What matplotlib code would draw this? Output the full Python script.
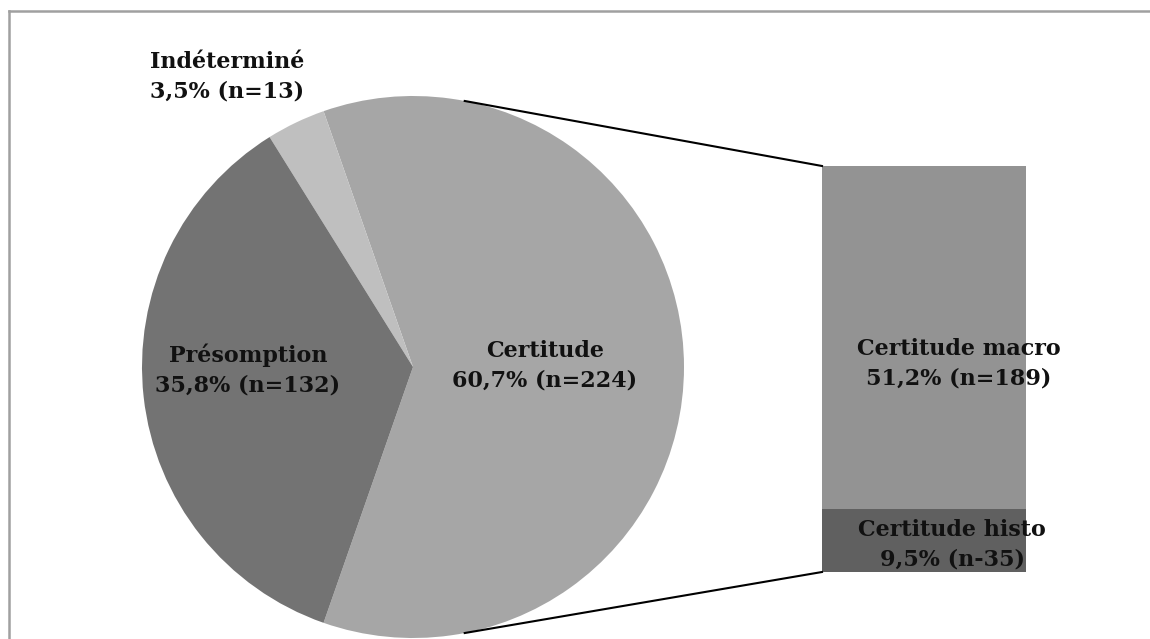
import numpy as np
import matplotlib
matplotlib.use("Agg")
import matplotlib.pyplot as plt
from matplotlib.lines import Line2D

# Data
pie_labels = ["Certitude\n60,7% (n=224)", "Indéterminé\n3,5% (n=13)", "Présomption\n35,8% (n=132)"]
pie_values = [224, 13, 132]
pie_colors = ["#a6a6a6", "#bfbfbf", "#737373"]
bar_labels = ["Certitude histo\n9,5% (n-35)", "Certitude macro\n51,2% (n=189)"]
bar_values = [35, 189]
bar_colors = ["#606060", "#939393"]

W, H = 1150, 639
fig = plt.figure(figsize=(W / 100, H / 100), dpi=100)
ax = fig.add_axes([0, 0, 1, 1])
ax.set_zorder(2)
ax.patch.set_visible(False)

font = dict(family="DejaVu Serif", fontweight="bold", fontsize=16, color="#111111")

cx, cy, r = 413, H - 367, 271
total = sum(pie_values)
start = -360 * pie_values[0] / total / 2
wedges, _ = ax.pie(pie_values, colors=pie_colors, startangle=start, counterclock=True,
                   center=(cx, cy), radius=r, frame=True,
                   wedgeprops=dict(linewidth=0))
ax.set_xlim(0, W)
ax.set_ylim(0, H)
ax.set_aspect("equal")
ax.axis("off")

# pie labels
ls = 1.45
ax.text(545, H - 366, pie_labels[0], ha="center", va="center", linespacing=ls, **font)
ax.text(150, H - 77, pie_labels[1], ha="left", va="center", linespacing=ls, **font)
ax.text(248, H - 370, pie_labels[2], ha="center", va="center", linespacing=ls, **font)

# bar of pie
bx0, bx1 = 822, 1026
by0, by1 = H - 572, H - 166
bax = fig.add_axes([bx0 / W, by0 / H, (bx1 - bx0) / W, (by1 - by0) / H])
bax.set_zorder(1)
bottom = 0
for v, c in zip(bar_values, bar_colors):
    bax.bar(0, v, width=1, bottom=bottom, color=c, linewidth=0)
    bottom += v
bax.set_xlim(-0.5, 0.5)
bax.set_ylim(0, sum(bar_values))
bax.axis("off")

ax.text(952, H - 545, bar_labels[0], ha="center", va="center", linespacing=ls, zorder=10, **font)
ax.text(959, H - 364, bar_labels[1], ha="center", va="center", linespacing=ls, zorder=10, **font)

# connector lines
ang = np.deg2rad(79)
ax.add_line(Line2D([cx + r * np.cos(ang), bx0], [cy + r * np.sin(ang), by1], color="black", lw=1.5))
ax.add_line(Line2D([cx + r * np.cos(ang), bx0], [cy - r * np.sin(ang), by0], color="black", lw=1.5))

# frame (partially visible)
ax.add_line(Line2D([9, W], [H - 11, H - 11], color="#a0a0a0", lw=1.8))
ax.add_line(Line2D([9, 9], [H - 11, 0], color="#a0a0a0", lw=1.8))

fig.savefig("out.png", dpi=100)
